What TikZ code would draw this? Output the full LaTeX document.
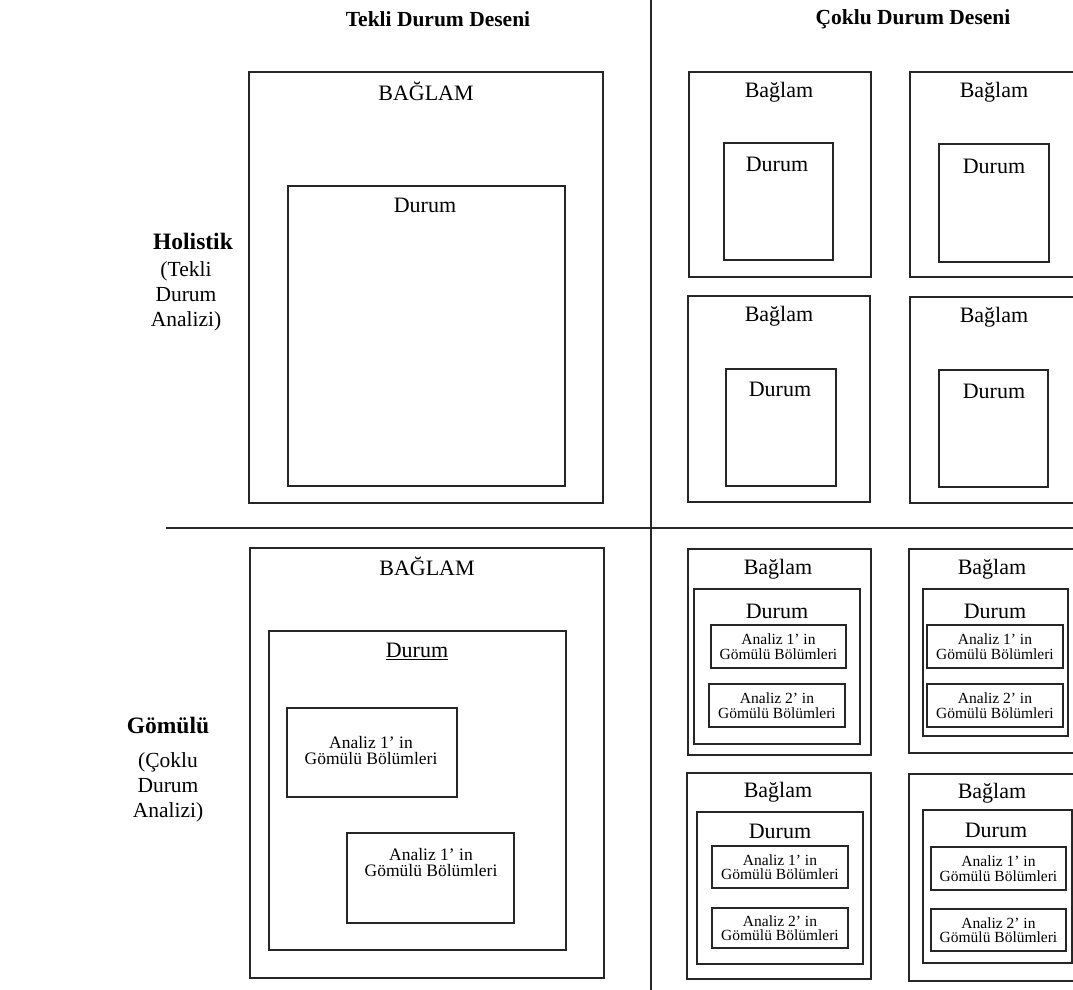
\documentclass[tikz,border=0pt]{standalone}
\usepackage{fontspec}
\setmainfont{Liberation Serif}
\usetikzlibrary{fit}
\newcommand\bx[5]{\node[box, fit={(#2,#3) (#4,#5)}] (#1) {};}
\begin{document}
\begin{tikzpicture}[x=1pt,y=-1pt,
  box/.style={draw=black!85, line width=1.4pt, inner sep=0pt},
  lbl/.style={inner sep=0pt, font=\fontsize{22}{26}\selectfont},
  hdr/.style={inner sep=0pt, font=\bfseries\fontsize{21.5}{26}\selectfont},
  rowhdr/.style={inner sep=0pt, font=\bfseries\fontsize{23.5}{26}\selectfont},
  side/.style={inner sep=0pt, align=center, font=\fontsize{21.5}{25}\selectfont},
  sm/.style={inner sep=0pt, align=center, font=\fontsize{15.5}{14.5}\selectfont},
  md/.style={inner sep=0pt, align=center, font=\fontsize{17.5}{16}\selectfont},
  divider/.style={draw=black!85, line width=1.4pt}]
\clip (0,0) rectangle (1073,990);
% dividers
\coordinate (vtop) at (651,0);
\coordinate (vbot) at (651,990);
\coordinate (hl) at (166,528);
\coordinate (hr) at (1073,528);
\draw[divider] (vtop) -- (vbot);
\draw[divider] (hl) -- (hr);
% headers
\node[hdr] (h1) at (438,19) {Tekli Durum Deseni};
\node[hdr] (h2) at (913,19) {Çoklu Durum Deseni};
\node[rowhdr] (r1) at (193,241) {Holistik};
\node[side] (r1s) at (186,296) {(Tekli\\Durum\\Analizi)};
\node[rowhdr] (r2) at (168,725) {Gömülü};
\node[side] (r2s) at (168,787) {(Çoklu\\Durum\\Analizi)};
% top-left
\bx{TLo}{249}{72}{603}{503}
\bx{TLi}{288}{186}{565}{486}
\node[lbl] (TLot) at (426,91) {BAĞLAM};
\node[lbl] (TLit) at (425,205) {Durum};
% top-right
\bx{TR1o}{689}{72}{871}{277}
\bx{TR1i}{724}{143}{833}{260}
\node[lbl] (TR1ot) at (779,92) {Bağlam};
\node[lbl] (TR1it) at (777,164) {Durum};
\bx{TR2o}{910}{72}{1085}{277}
\bx{TR2i}{939}{144}{1049}{262}
\node[lbl] (TR2ot) at (994,92) {Bağlam};
\node[lbl] (TR2it) at (994,166) {Durum};
\bx{TR3o}{688}{296}{870}{502}
\bx{TR3i}{726}{369}{836}{486}
\node[lbl] (TR3ot) at (779,316) {Bağlam};
\node[lbl] (TR3it) at (780,389) {Durum};
\bx{TR4o}{910}{297}{1085}{503}
\bx{TR4i}{939}{370}{1048}{487}
\node[lbl] (TR4ot) at (994,317) {Bağlam};
\node[lbl] (TR4it) at (994,391) {Durum};
% bottom-left
\bx{BLo}{250}{548}{604}{978}
\bx{BLd}{269}{631}{566}{950}
\bx{BLa}{287}{708}{457}{797}
\bx{BLb}{347}{833}{514}{923}
\node[lbl] (BLot) at (427,566) {BAĞLAM};
\node[lbl] (BLdt) at (417,651) {\underline{Durum}};
\node[md] (BLat) at (371,751) {Analiz 1’ in\\Gömülü Bölümleri};
\node[md] (BLbt) at (431,863) {Analiz 1’ in\\Gömülü Bölümleri};
% bottom-right A
\bx{Ao}{688}{549}{871}{755}
\bx{Ad}{694}{589}{860}{744}
\bx{Aa}{711}{625}{846}{668}
\bx{Ab}{709}{684}{845}{727}
\node[lbl] (Aot) at (778,569) {Bağlam};
\node[lbl] (Adt) at (777,611) {Durum};
\node[sm] at (Aa.center) {Analiz 1’ in\\Gömülü Bölümleri};
\node[sm] at (Ab.center) {Analiz 2’ in\\Gömülü Bölümleri};
% B
\bx{Bo}{909}{549}{1085}{753}
\bx{Bd}{923}{589}{1068}{736}
\bx{Ba}{927}{625}{1063}{668}
\bx{Bb}{927}{684}{1063}{727}
\node[lbl] (Bot) at (992,569) {Bağlam};
\node[lbl] (Bdt) at (995,611) {Durum};
\node[sm] at (Ba.center) {Analiz 1’ in\\Gömülü Bölümleri};
\node[sm] at (Bb.center) {Analiz 2’ in\\Gömülü Bölümleri};
% C
\bx{Co}{687}{773}{871}{979}
\bx{Cd}{697}{812}{863}{964}
\bx{Ca}{712}{846}{848}{888}
\bx{Cb}{712}{908}{848}{948}
\node[lbl] (Cot) at (778,792) {Bağlam};
\node[lbl] (Cdt) at (780,831) {Durum};
\node[sm] at (Ca.center) {Analiz 1’ in\\Gömülü Bölümleri};
\node[sm] at (Cb.center) {Analiz 2’ in\\Gömülü Bölümleri};
% D
\bx{Do}{909}{774}{1085}{981}
\bx{Dd}{923}{810}{1072}{963}
\bx{Da}{931}{847}{1066}{890}
\bx{Db}{931}{909}{1066}{951}
\node[lbl] (Dot) at (992,793) {Bağlam};
\node[lbl] (Ddt) at (996,830) {Durum};
\node[sm] at (Da.center) {Analiz 1’ in\\Gömülü Bölümleri};
\node[sm] at (Db.center) {Analiz 2’ in\\Gömülü Bölümleri};
\end{tikzpicture}
\end{document}
